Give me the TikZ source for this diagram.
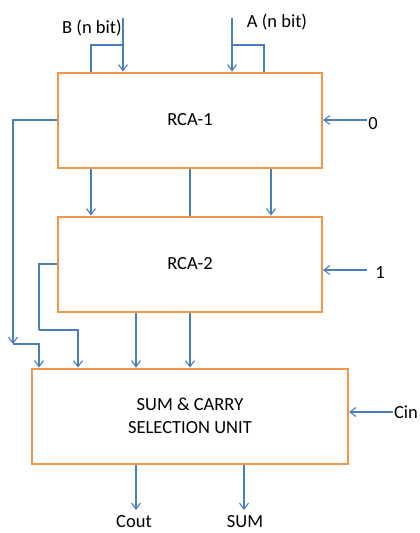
\documentclass[tikz,border=0pt]{standalone}
\usepackage{fontspec}
\setmainfont{Carlito}
\usetikzlibrary{arrows.meta, positioning}
\definecolor{boxorange}{HTML}{F79646}
\definecolor{wireblue}{HTML}{4A7EBB}

\begin{document}
\begin{tikzpicture}[
  x=1pt, y=-1pt,
  blk/.style={draw=boxorange, line width=2pt, minimum width=264pt, minimum height=95pt, align=center, font=\fontsize{18.5}{23}\selectfont},
  lbl/.style={inner sep=0pt, font=\fontsize{18.5}{23}\selectfont},
  sig/.style={-{Straight Barb[length=6pt, width=9pt]}, wireblue, line width=1.1pt},
  wire/.style={wireblue, line width=1.1pt},
  node distance=47pt
]
\useasboundingbox (0,0) rectangle (420,533);

\node[blk] (rca1) at (190,120) {RCA-1};
\node[blk, below=of rca1] (rca2) {RCA-2};
\node[blk, minimum width=316pt, below=55pt of rca2] (sel) {SUM \& CARRY\\SELECTION UNIT};

% operands
\coordinate (bin) at (123,18);
\coordinate (bsplit) at (123,45);
\coordinate (ain) at (232,18);
\coordinate (asplit) at (232,45);
\node[lbl] (blab) at (92,28) {B (n bit)};
\node[lbl] (alab) at (277,22) {A (n bit)};
\draw[sig] (bin) -- (bin |- rca1.north);
\draw[wire] (bsplit) -| ([xshift=-99pt]rca1.north);
\draw[sig] (ain) -- (ain |- rca1.north);
\draw[wire] (asplit) -| ([xshift=74pt]rca1.north);

% RCA-1 to RCA-2
\draw[sig] ([xshift=-99pt]rca1.south) -- ([xshift=-99pt]rca2.north);
\draw[wire] (rca1.south) -- (rca2.north);
\draw[sig] ([xshift=81pt]rca1.south) -- ([xshift=81pt]rca2.north);

% carries on the left
\coordinate (c1) at (13,344);
\coordinate (c2) at (39,330);
\draw[sig] (rca1.west) -| (c1);
\draw[sig] (c1) -| ([xshift=-151pt]sel.north);
\draw[wire] (rca2.west) -| (c2);
\draw[sig] (c2) -| ([xshift=-112pt]sel.north);

% RCA-2 to selection unit
\draw[sig] ([xshift=-54pt]rca2.south) -- ([xshift=-54pt]sel.north);
\draw[sig] (rca2.south) -- (sel.north);

% carry inputs
\coordinate (zin) at (367,120);
\coordinate (oin) at (367,270);
\coordinate (cin) at (393,412);
\node[lbl] (zlab) at (373,124) {0};
\node[lbl] (olab) at (380,273) {1};
\node[lbl] (cinlab) at (406,412) {Cin};
\draw[sig] (zin) -- (zin -| rca1.east);
\draw[sig] (oin) -- (oin -| rca2.east);
\draw[sig] (cin) -- (cin -| sel.east);

% outputs
\coordinate (cout) at (136,510);
\coordinate (sout) at (244,510);
\node[lbl] (coutlab) at (134,522) {Cout};
\node[lbl] (soutlab) at (245,522) {SUM};
\draw[sig] (sel.south -| cout) -- (cout);
\draw[sig] (sel.south -| sout) -- (sout);
\end{tikzpicture}
\end{document}
